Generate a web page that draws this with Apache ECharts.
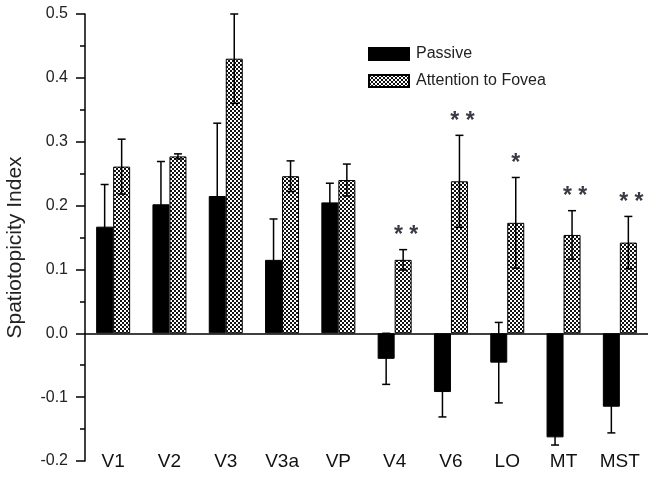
<!DOCTYPE html>
<html>
<head>
<meta charset="utf-8">
<script src="https://cdn.jsdelivr.net/npm/echarts@6/dist/echarts.min.js"></script>
<style>html,body{margin:0;padding:0;background:#fff;}#c{width:654px;height:477px;}</style>
</head>
<body>
<div id="c"></div>
<script>
var categories = ['V1','V2','V3','V3a','VP','V4','V6','LO','MT','MST'];
var passive = [0.167, 0.202, 0.215, 0.115, 0.205, -0.040, -0.092, -0.046, -0.163, -0.115];
var passiveErr = [0.066, 0.067, 0.114, 0.064, 0.030, 0.040, 0.039, 0.063, 0.012, 0.041];
var attention = [0.261, 0.277, 0.430, 0.246, 0.240, 0.115, 0.238, 0.173, 0.154, 0.142];
var attentionErr = [0.043, 0.004, 0.070, 0.024, 0.025, 0.016, 0.072, 0.071, 0.038, 0.041];
var stars = ['', '', '', '', '', '**', '**', '*', '**', '**'];
var yTicks = [-0.2, -0.1, 0.0, 0.1, 0.2, 0.3, 0.4, 0.5];

var BAR_W = 17;

function makePattern() {
  var c = document.createElement('canvas');
  c.width = 4; c.height = 4;
  var ctx = c.getContext('2d');
  ctx.fillStyle = '#ffffff';
  ctx.fillRect(0, 0, 4, 4);
  ctx.fillStyle = '#111111';
  ctx.fillRect(0, 0, 2, 2);
  ctx.fillRect(2, 2, 2, 2);
  return c;
}
var pattern = { image: makePattern(), repeat: 'repeat' };

function errData(vals, errs) {
  return vals.map(function (v, i) { return [i, v, errs[i]]; });
}

function errRender(offset) {
  return function (params, api) {
    var i = api.value(0), v = api.value(1), e = api.value(2);
    var top = api.coord([i, v + e]);
    var bot = api.coord([i, v - e]);
    var x = top[0] + offset;
    var cap = 4;
    var st = { stroke: '#000', lineWidth: 1.5 };
    return {
      type: 'group',
      children: [
        { type: 'line', shape: { x1: x, y1: top[1], x2: x, y2: bot[1] }, style: st },
        { type: 'line', shape: { x1: x - cap, y1: top[1], x2: x + cap, y2: top[1] }, style: st },
        { type: 'line', shape: { x1: x - cap, y1: bot[1], x2: x + cap, y2: bot[1] }, style: st }
      ]
    };
  };
}

var chart = echarts.init(document.getElementById('c'), null, { renderer: 'canvas' });
var font = 'Liberation Sans';
chart.setOption({
  animation: false,
  backgroundColor: '#fff',
  textStyle: { fontFamily: font },
  grid: { left: 85, right: 6, top: 14, bottom: 16, containLabel: false, outerBoundsMode: 'none' },
  legend: {
    orient: 'vertical',
    left: 363, top: 41,
    itemWidth: 40, itemHeight: 12, itemGap: 11,
    icon: 'rect',
    data: ['Passive', 'Attention to Fovea'],
    textStyle: { fontFamily: font, fontSize: 16, color: '#222', padding: [0, 0, 0, 2] }
  },
  graphic: [{
    type: 'text',
    x: 15.5, y: 247.5, rotation: Math.PI / 2,
    style: {
      text: 'Spatiotopicity Index', x: 0, y: 0,
      font: '21px "Liberation Sans"', fill: '#222',
      align: 'center', verticalAlign: 'middle'
    }
  }],
  xAxis: {
    type: 'category',
    data: categories,
    boundaryGap: true,
    axisLine: { show: false, onZero: false },
    axisTick: { show: false },
    splitLine: { show: false },
    axisLabel: { fontFamily: font, fontSize: 19, color: '#111', margin: 1, verticalAlign: 'middle' }
  },
  yAxis: {
    type: 'value',
    min: yTicks[0], max: yTicks[yTicks.length - 1], interval: 0.1,
    axisLine: { show: true, lineStyle: { color: '#000', width: 1.5 } },
    axisTick: { show: true, inside: false, length: 9, lineStyle: { color: '#000', width: 1.5 } },
    minorTick: { show: true, splitNumber: 2, length: 5, lineStyle: { color: '#000', width: 1.5 } },
    splitLine: { show: false },
    axisLabel: {
      fontFamily: font, fontSize: 16, color: '#222', margin: 17,
      formatter: function (v) { return (Math.round(v * 10) / 10).toFixed(1); }
    }
  },
  series: [
    {
      name: 'Passive', type: 'bar', data: passive, barWidth: BAR_W, barGap: '0%',
      itemStyle: { color: '#000', borderColor: '#000', borderWidth: 1 },
      markLine: {
        silent: true, symbol: ['none', 'none'], label: { show: false },
        lineStyle: { color: '#000', width: 1.5, type: 'solid' },
        data: [{ yAxis: 0 }]
      }
    },
    {
      name: 'Attention to Fovea', type: 'bar', data: attention, barWidth: BAR_W, barGap: '0%',
      itemStyle: { color: pattern, borderColor: '#000', borderWidth: 1 }
    },
    {
      type: 'custom', name: 'errP', renderItem: errRender(-BAR_W / 2),
      data: errData(passive, passiveErr), encode: { x: 0, y: 1 }, z: 5
    },
    {
      type: 'custom', name: 'errA', renderItem: errRender(BAR_W / 2),
      data: errData(attention, attentionErr), encode: { x: 0, y: 1 }, z: 5
    },
    {
      type: 'custom', name: 'stars',
      renderItem: function (params, api) {
        var i = api.value(0), v = api.value(1);
        var s = stars[i];
        if (!s) return null;
        var p = api.coord([i, v]);
        return {
          type: 'text',
          style: {
            x: p[0] + BAR_W / 2 + (s.length > 1 ? 3 : 0), y: p[1] - 14,
            text: s.split('').join(' '),
            fill: '#3a3a44', font: 'bold 23px "Liberation Sans"',
            align: 'center', verticalAlign: 'middle'
          }
        };
      },
      data: attention.map(function (v, i) { return [i, v + attentionErr[i]]; }),
      encode: { x: 0, y: 1 }, z: 6
    }
  ]
});
</script>
</body>
</html>
